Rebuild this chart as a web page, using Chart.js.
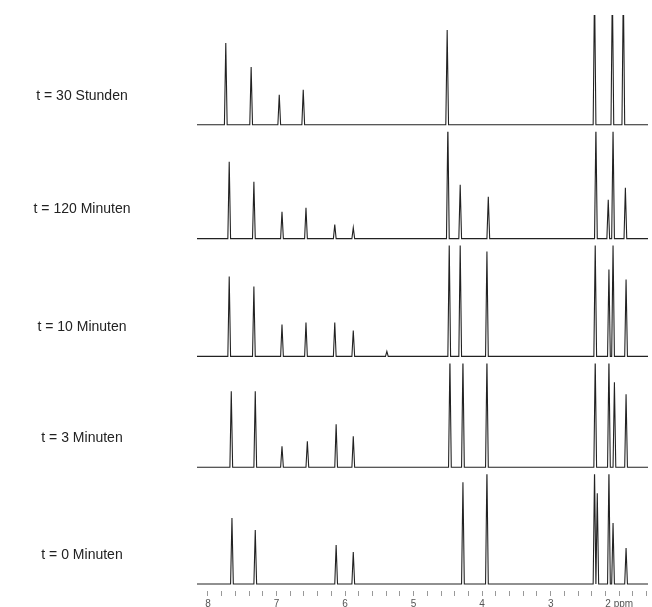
<!DOCTYPE html>
<html lang="de">
<head>
<meta charset="UTF-8">
<title>NMR-Spektren</title>
<script src="https://cdn.jsdelivr.net/npm/chart.js"></script>
<style>
  body { margin: 0; background: #fff; overflow: hidden; }
  canvas { display: block; }
</style>
</head>
<body>
<canvas id="nmrChart" width="652" height="612"></canvas>
<script>
// Messzeitpunkte, von unten nach oben
const traceLabels = ['t = 0 Minuten', 't = 3 Minuten', 't = 10 Minuten', 't = 120 Minuten', 't = 30 Stunden'];

// Peaklagen (ppm) und Intensitäten je Spektrum
const shift0 = [7.65, 7.31, 6.13, 5.88, 4.28, 3.93, 2.36, 2.32, 2.15, 2.09, 1.90];
const int0   = [66, 54, 39, 32, 102, 114, 114, 91, 114, 61, 36];

const shift3 = [7.66, 7.31, 6.92, 6.55, 6.13, 5.88, 4.47, 4.28, 3.93, 2.35, 2.15, 2.07, 1.90];
const int3   = [76, 76, 21, 26, 43, 31, 108, 108, 108, 108, 108, 85, 73];

const shift10 = [7.69, 7.33, 6.92, 6.57, 6.15, 5.88, 5.39, 4.48, 4.32, 3.93, 2.35, 2.15, 2.09, 1.90];
const int10   = [80, 70, 32, 34, 34, 26, 5, 112, 112, 105, 112, 87, 112, 77];

const shift120 = [7.69, 7.33, 6.92, 6.57, 6.15, 5.88, 4.50, 4.32, 3.91, 2.34, 2.16, 2.09, 1.91];
const int120   = [77, 57, 27, 31, 14, 11, 115, 54, 42, 112, 39, 110, 51];

const shift30h = [7.74, 7.37, 6.96, 6.61, 4.51, 2.36, 2.10, 1.94];
const int30h   = [82, 58, 30, 35, 95, 140, 140, 140];

const traceShifts = [shift0, shift3, shift10, shift120, shift30h];
const traceInts = [int0, int3, int10, int120, int30h];

// Achse: 8 ... 2 ppm
const ppmMax = 8.16;
const ppmMin = 1.58;

// Höhe der Streifen (unten nach oben)
const bandHeights = [117, 111, 118, 114, 117];
const peakHalfWidth = 0.02;

function buildTrace(shifts, ints) {
    let pts = [{x: ppmMax, y: 0}];
    shifts.forEach((p, i) => {
        pts.push({x: p + peakHalfWidth, y: 0});
        pts.push({x: p, y: ints[i]});
        pts.push({x: p - peakHalfWidth, y: 0});
    });
    pts.push({x: ppmMin, y: 0});
    return pts;
}

let scales = {
    x: {
        type: 'linear',
        reverse: true,
        min: ppmMin,
        max: ppmMax,
        border: { display: false },
        grid: { drawOnChartArea: false, drawTicks: true, tickLength: 5, color: '#999' },
        ticks: {
            stepSize: 0.2,
            includeBounds: false,
            autoSkip: false,
            maxRotation: 0,
            padding: 2,
            color: '#555',
            font: { family: '"Liberation Sans", Arial, sans-serif', size: 10 },
            callback: function(v) {
                if (Math.abs(v - Math.round(v)) > 1e-6) return '';
                return Math.round(v) === 2 ? '2 ppm' : String(Math.round(v));
            }
        }
    }
};

let datasets = [];
traceLabels.forEach((lbl, i) => {
    scales['y' + i] = {
        type: 'linear',
        display: false,
        stack: 'spektren',
        stackWeight: bandHeights[i],
        min: -7,
        max: bandHeights[i] - 7
    };
    datasets.push({
        label: lbl,
        data: buildTrace(traceShifts[i], traceInts[i]),
        xAxisID: 'x',
        yAxisID: 'y' + i,
        borderColor: '#222',
        borderWidth: 1.1,
        pointRadius: 0,
        tension: 0,
        fill: false
    });
});

// Beschriftung links neben jedem Spektrum
const traceLabelPlugin = {
    id: 'traceLabels',
    afterDraw(chart) {
        const c = chart.ctx;
        c.save();
        c.font = '14px "Liberation Sans", Arial, sans-serif';
        c.fillStyle = '#222';
        c.textAlign = 'center';
        c.textBaseline = 'middle';
        traceLabels.forEach((lbl, i) => {
            const y = chart.scales['y' + i].getPixelForValue(0) - 29;
            c.fillText(lbl, 82, y);
        });
        c.restore();
    }
};

let ctx = document.getElementById('nmrChart').getContext('2d');
let nmrChart = new Chart(ctx, {
    type: 'line',
    data: { datasets: datasets },
    options: {
        responsive: false,
        animation: false,
        layout: { padding: { left: 197, right: 4, top: 15, bottom: 0 } },
        plugins: { legend: { display: false }, tooltip: { enabled: false } },
        scales: scales
    },
    plugins: [traceLabelPlugin]
});
</script>
</body>
</html>
